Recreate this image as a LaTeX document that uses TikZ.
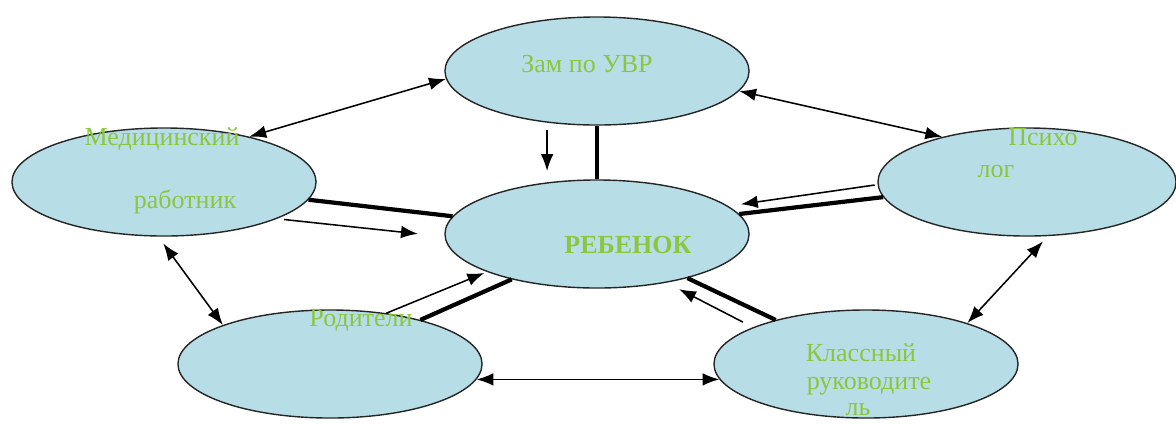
\documentclass[tikz,border=0pt]{standalone}
\usepackage{fontspec}
\setmainfont{Liberation Serif}
\usetikzlibrary{shapes.geometric}
\usetikzlibrary{arrows.meta}
\definecolor{cellblue}{RGB}{183,221,230}
\definecolor{labelgreen}{RGB}{140,198,63}

\tikzset{
  role/.style={ellipse, draw=black!85, line width=1pt, fill=cellblue, minimum width=7.6cm, minimum height=2.7cm, inner sep=0pt},
  rolename/.style={text=labelgreen, font=\fontsize{18.5}{22}\selectfont, anchor=base, inner sep=0pt},
  link/.style={line width=1.1pt, {Latex[length=12pt,width=9pt]}-{Latex[length=12pt,width=9pt]}},
  tie/.style={line width=3pt},
  flow/.style={line width=1.1pt, -{Latex[length=12pt,width=9pt]}}
}

\begin{document}
\begin{tikzpicture}[x=0.025cm, y=-0.025cm]
  \clip (0,0) rectangle (1176,423);
  % ellipses
  \node[role] (zam) at (597,71) {};
  \node[role] (med) at (164,182) {};
  \node[role] (reb) at (597,234) {};
  \node[role, minimum width=7.45cm] (psy) at (1027,182) {};
  \node[role] (rod) at (330,364) {};
  \node[role] (kla) at (866,364) {};
  % links round the outside
  \draw[link] (zam.183) -- (med.28);
  \draw[link] (zam.-8) -- (psy.152);
  \draw[link, shorten <=6pt] (med.-96) -- (rod.160);
  \draw[link, shorten <=5pt] (psy.-69) -- (kla.22);
  \draw[link] (rod.-6) -- (kla.186);
  % ties to the child
  \draw[tie] (zam.south) -- (reb.north);
  \draw[tie] (med.-7) -- (reb.173);
  \draw[tie] (psy.186) -- (reb.8);
  \draw[tie] (rod.26) -- (reb.208);
  \draw[tie] (kla.154) -- (reb.-26);
  % arrows to the child
  \draw[flow, shorten <=5pt, shorten >=8pt] (zam.-134) -- (reb.134);
  \draw[flow, shorten <=5pt, shorten >=19pt] (med.-18) -- (reb.181);
  \draw[flow, shorten <=2pt, shorten >=9pt] (psy.181) -- (reb.12);
  \draw[flow, shorten >=2pt] (rod.42) -- (reb.199);
  \draw[flow, shorten <=8pt, shorten >=10pt] (kla.162) -- (reb.-35);
  % labels
  \node[rolename] (zamtext) at (587,72) {Зам по УВР};
  \node[rolename] (medtext) at (162,145) {Медицинский};
  \node[rolename] (medtextb) at (185,208) {работник};
  \node[rolename, font=\fontsize{18.5}{22}\selectfont\bfseries] (rebtext) at (628,253) {РЕБЕНОК};
  \node[rolename] (psytext) at (1043,145) {Психо};
  \node[rolename] (psytextb) at (996,177) {лог};
  \node[rolename] (rodtext) at (361,326) {Родители};
  \node[rolename] (klatext) at (861,361) {Классный};
  \node[rolename] (klatextb) at (869,389) {руководите};
  \node[rolename] (klatextc) at (858,415) {ль};
\end{tikzpicture}
\end{document}
